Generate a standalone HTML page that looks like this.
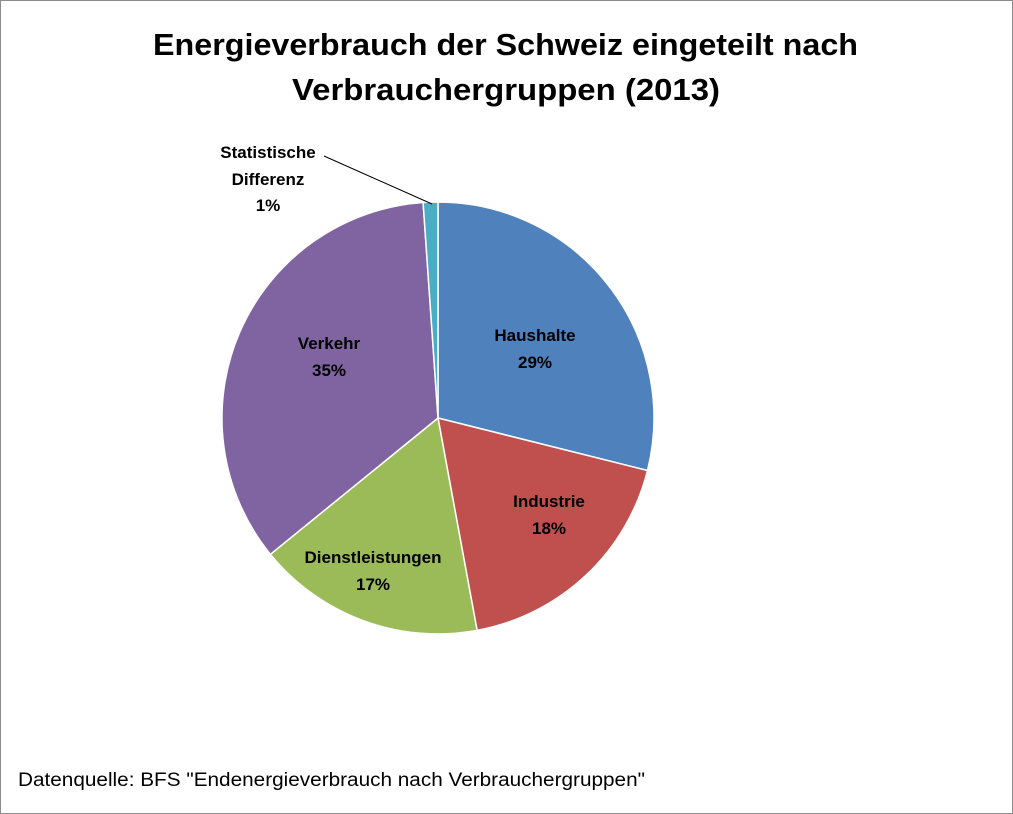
<!DOCTYPE html>
<html><head><meta charset="utf-8"><style>
html,body{margin:0;padding:0;background:#fff}
svg{display:block}
text{font-family:"Liberation Sans",sans-serif}
</style></head><body>
<svg width="1013" height="814" viewBox="0 0 1013 814">
<rect x="0.5" y="0.5" width="1012" height="813" fill="#fff" stroke="#8c8c8c"/>
<text x="153" y="55" font-size="31" font-weight="bold" fill="#000" textLength="705" lengthAdjust="spacingAndGlyphs">Energieverbrauch der Schweiz eingeteilt nach</text>
<text x="292" y="100" font-size="31" font-weight="bold" fill="#000" textLength="428" lengthAdjust="spacingAndGlyphs">Verbrauchergruppen (2013)</text>
<g stroke="#fff" stroke-width="1.5">
<path d="M438,418 L438,202 A216,216 0 0 1 647.5,470.5 Z" fill="#4F81BD"/>
<path d="M438,418 L647.5,470.5 A216,216 0 0 1 477.1,630.4 Z" fill="#C0504D"/>
<path d="M438,418 L477.1,630.4 A216,216 0 0 1 270.4,554.3 Z" fill="#9BBB59"/>
<path d="M438,418 L270.4,554.3 A216,216 0 0 1 423.1,202.5 Z" fill="#8064A2"/>
<path d="M438,418 L423.1,202.5 A216,216 0 0 1 438,202 Z" fill="#4BACC6"/>
</g>
<line x1="324" y1="156" x2="432" y2="204" stroke="#000" stroke-width="1"/>
<g font-size="17" font-weight="bold" fill="#000" text-anchor="middle">
<text x="535" y="341">Haushalte</text><text x="535" y="368">29%</text>
<text x="549" y="507">Industrie</text><text x="549" y="534">18%</text>
<text x="373" y="563">Dienstleistungen</text><text x="373" y="590">17%</text>
<text x="329" y="349">Verkehr</text><text x="329" y="376">35%</text>
<text x="268" y="158">Statistische</text><text x="268" y="185">Differenz</text><text x="268" y="211">1%</text>
</g>
<text x="18" y="786" font-size="19" fill="#000" textLength="627" lengthAdjust="spacingAndGlyphs">Datenquelle: BFS "Endenergieverbrauch nach Verbrauchergruppen"</text>
</svg>
</body></html>
